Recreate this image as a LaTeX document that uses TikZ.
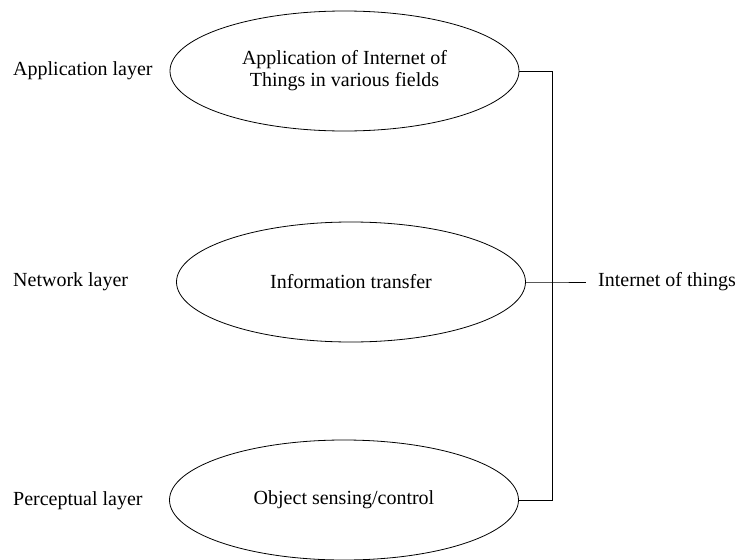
\documentclass[tikz,border=0pt]{standalone}
\usepackage{fontspec}
\setmainfont{Liberation Serif}
\usetikzlibrary{shapes.geometric}
\tikzset{
    layerbox/.style={draw, line width=0.8pt, ellipse, minimum width=349pt, minimum height=120pt, inner sep=0pt, align=center},
    layertext/.style={anchor=west, inner sep=0pt},
    bracket/.style={line width=0.8pt}
}

\begin{document}
\begin{tikzpicture}[x=1pt, y=-1pt, font=\fontsize{20}{22}\selectfont]
            \useasboundingbox                                          (0.00, 0.00) rectangle (740.00, 560.00);
            \node[layerbox]  (app)  at (344.50,  71.00) {Application of Internet of\\Things in various fields};
            \node[layerbox]  (net)  at (351.00, 282.00) {Information transfer};
            \node[layerbox]  (per)  at (344.00, 500.00) {Object sensing/control};
            \node[layertext] (appl) at ( 13.00,  71.00) {Application layer};
            \node[layertext] (netl) at ( 13.00, 282.00) {Network layer};
            \node[layertext] (perl) at ( 13.00, 501.00) {Perceptual layer};
            \coordinate      (top)  at (552.00,  71.00);
            \coordinate      (mid)  at (552.00, 282.00);
            \coordinate      (bot)  at (552.00, 500.00);
            \node[layertext] (iot)  at (598.00, 282.00) {Internet of things};
            \coordinate      (iotl) at (586.00, 282.00);
            \draw[bracket] (app.east) -- (top) -- (bot) -- (per.east);
            \draw[bracket] (net.east) -- (mid) -- (iotl);
        \end{tikzpicture}
\end{document}
